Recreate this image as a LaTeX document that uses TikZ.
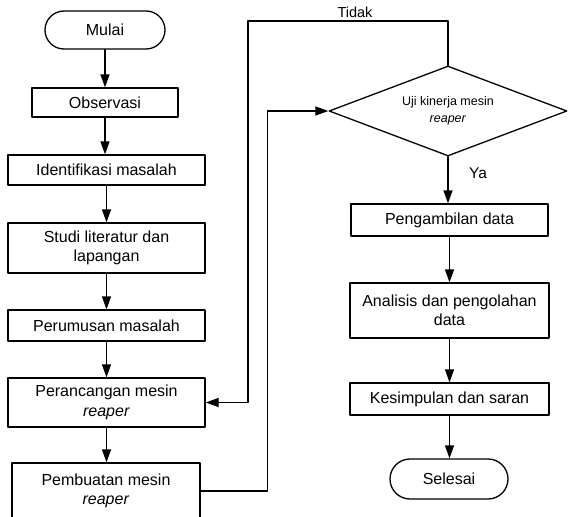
\documentclass[tikz,border=0pt]{standalone}
\usepackage{fontspec}
\setmainfont{Liberation Sans}
\usetikzlibrary{arrows.meta,shapes.geometric}

\begin{document}
\begin{tikzpicture}[line cap=round,line join=round,>={Triangle[length=13pt,width=9pt]},x=1pt,y=-1pt,line width=1.3pt,
  every node/.style={font=\fontsize{16}{19.5}\selectfont,align=center,inner sep=0pt},
  proc/.style={draw,rectangle,minimum width=197pt,minimum height=30pt},
  term/.style={draw,rectangle,rounded corners=19pt,minimum width=120pt,minimum height=38pt},
  decision/.style={draw,diamond,aspect=2.67,minimum width=238pt,minimum height=90pt,font=\fontsize{12.5}{17}\selectfont},
  lbl/.style={font=\fontsize{14.5}{17}\selectfont}]
\useasboundingbox (0,0) rectangle (568,517);
\clip (0,0) rectangle (568,517);
% left column
\draw (105,30) node [term] (mulai) {Mulai};
\draw (105,102.5) node [proc,minimum width=146pt,minimum height=29pt] (obs) {Observasi};
\draw (106.5,170) node [proc] (ident) {Identifikasi masalah};
\draw (106.5,248) node [proc,minimum height=50pt] (studi) {Studi literatur dan\\lapangan};
\draw (106.5,325.5) node [proc,minimum height=31pt] (rumus) {Perumusan masalah};
\draw (106.5,402.5) node [proc,minimum height=49pt] (rancang) {Perancangan mesin\\\textit{reaper}};
\draw (106,491) node [proc,minimum width=188pt,minimum height=56pt] (buat) {Pembuatan mesin\\\textit{reaper}};
% right column
\draw (448,111) node [decision] (uji) {Uji kinerja mesin\\\textit{reaper}};
\draw (449.5,220) node [proc,minimum height=32pt] (ambil) {Pengambilan data};
\draw (449.5,310.5) node [proc,minimum width=199pt,minimum height=55pt] (analisis) {Analisis dan pengolahan\\data};
\draw (449.5,399) node [proc,minimum width=199pt,minimum height=32pt] (simpul) {Kesimpulan dan saran};
\draw (449,479) node [term,minimum width=118pt,minimum height=40pt,rounded corners=20pt] (selesai) {Selesai};
\coordinate (tidak) at (248,21);
\draw (355,12) node [lbl] (lbltidak) {Tidak};
\draw (478,173) node [lbl,font=\fontsize{15.5}{17}\selectfont] (lblya) {Ya};
% arrows
\draw [->] (mulai) -- (obs);
\draw [->] (obs) -- (obs |- ident.north);
\draw [->] (ident) -- (studi);
\draw [->] (studi) -- (rumus);
\draw [->] (rumus) -- (rancang);
\draw [->] (rancang.south) -- (rancang.south |- buat.north);
\draw [->] (buat.east) -- ++(67,0) |- (uji.west);
\draw [->] (uji.north) |- (tidak) |- (rancang.east);
\draw [->] (uji.south) -- (uji.south |- ambil.north);
\draw [->] (ambil) -- (ambil |- analisis.north);
\draw [->] (analisis) -- (simpul);
\draw [->] (simpul) -- (simpul |- selesai.north);
\end{tikzpicture}
\end{document}
